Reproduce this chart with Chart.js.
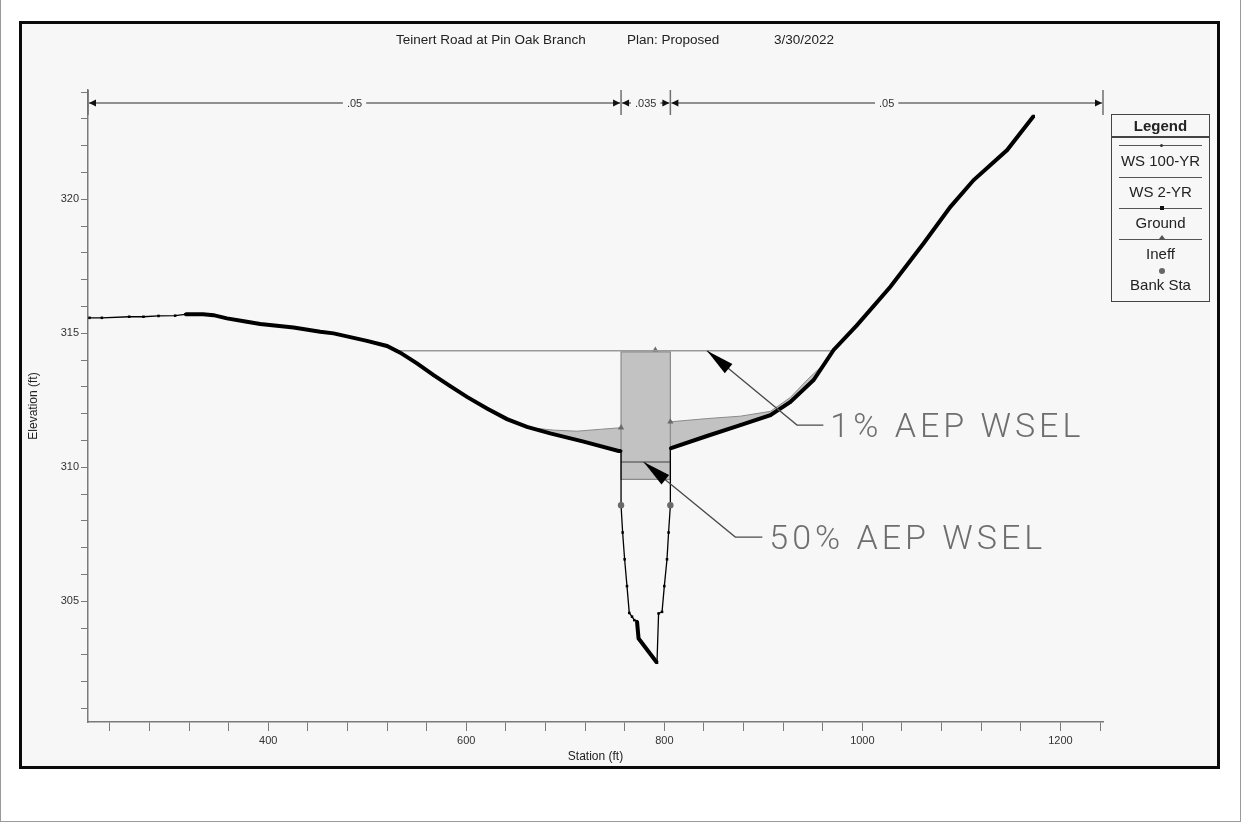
<!DOCTYPE html>
<html>
<head>
<meta charset="utf-8">
<script src="https://cdn.jsdelivr.net/npm/chart.js@4.4.0/dist/chart.umd.min.js"></script>
<style>
  html, body { margin: 0; padding: 0; background: #fff; }
  body { width: 1242px; height: 824px; position: relative; overflow: hidden;
         font-family: "Liberation Sans", Arial, sans-serif; }
  #edge { position: absolute; left: 0; top: 0; width: 1241px; height: 822px;
          border: 1px solid #9a9a9a; border-top: none; box-sizing: border-box; }
  #frame { position: absolute; left: 19px; top: 21px; width: 1201px; height: 748px;
           border: 3px solid #0a0a0a; background: #f7f7f7; box-sizing: border-box; }
  #chart { position: absolute; left: 0; top: 0; }
  .tt { position: absolute; top: 32px; font-size: 13.5px; color: #222; white-space: pre; }
  #legend { position: absolute; left: 1111px; top: 114px; width: 99px; height: 188px;
            border: 1.5px solid #444; box-sizing: border-box; color: #222; }
  #legend .hd { position: absolute; left: 0; right: 0; top: 2px; text-align: center;
                font-weight: bold; font-size: 15px; }
  #legend .sep { position: absolute; left: 0; right: 0; top: 21px; border-top: 2px solid #444; }
  #legend .ln { position: absolute; left: 7px; width: 83px; border-top: 1px solid #555; }
  #legend .tx { position: absolute; left: 0; right: 0; text-align: center; font-size: 15px; line-height: 16px; }
  #legend .mk { position: absolute; left: 48px; }
</style>
</head>
<body>
<div id="edge"></div>
<div id="frame"></div>
<canvas id="chart" width="1242" height="824"></canvas>
<div class="tt" style="left:396px">Teinert Road at Pin Oak Branch</div>
<div class="tt" style="left:627px">Plan: Proposed</div>
<div class="tt" style="left:774px">3/30/2022</div>
<div id="legend">
  <div class="hd">Legend</div>
  <div class="sep"></div>
  <div class="ln" style="top:30px"></div>
  <div class="mk" style="top:29px;width:3px;height:3px;border-radius:50%;background:#333"></div>
  <div class="tx" style="top:38px">WS 100-YR</div>
  <div class="ln" style="top:62px"></div>
  <div class="tx" style="top:69px">WS 2-YR</div>
  <div class="ln" style="top:93px"></div>
  <div class="mk" style="top:91px;width:4px;height:4px;background:#111"></div>
  <div class="tx" style="top:100px">Ground</div>
  <div class="ln" style="top:124px"></div>
  <div class="mk" style="top:120px;left:47px;width:0;height:0;border-left:3px solid transparent;border-right:3px solid transparent;border-bottom:4px solid #555"></div>
  <div class="tx" style="top:131px">Ineff</div>
  <div class="mk" style="top:153px;left:47px;width:6px;height:6px;border-radius:50%;background:#666"></div>
  <div class="tx" style="top:162px">Bank Sta</div>
</div>
<script>
/* =========================
    DATA (station ft / elevation ft)
========================= */

// Ground profile
const groundSta = [219.5, 232, 259.6, 274, 289.2, 306, 316.2, 334.3, 344.7, 358.3, 378.5, 391.9,
  425.6, 452.5, 466, 499.7, 519.9, 533.3, 550.2, 567, 583.8, 600.7, 620.9, 641.1, 661.3, 684.8,
  718.5, 753.8, 756.3, 756.3, 757.9, 759.9, 762.3, 764.6, 767.4, 769.7, 772.4, 774, 792.6,
  794.2, 797.7, 800, 802.7, 804.3, 806.1, 806.1, 843.1, 876.8, 907.1, 927.3, 950.8, 971,
  994.6, 1028.3, 1061.9, 1088.9, 1112.4, 1146.2, 1173];
const groundElev = [315.58, 315.58, 315.62, 315.62, 315.65, 315.66, 315.71, 315.71, 315.68, 315.56, 315.43, 315.35,
  315.22, 315.06, 315.0, 314.72, 314.53, 314.28, 313.88, 313.44, 313.03, 312.63, 312.2, 311.8, 311.51, 311.27,
  310.96, 310.61, 310.61, 308.59, 307.57, 306.57, 305.57, 304.57, 304.43, 304.3, 304.26, 303.62, 302.71,
  304.55, 304.61, 305.57, 306.57, 307.57, 308.59, 310.71, 311.17, 311.58, 311.95, 312.44, 313.26, 314.38,
  315.31, 316.74, 318.36, 319.72, 320.72, 321.84, 323.11];

// Water surfaces
const ws100Sta = [529.5, 970.5];
const ws100Elev = [314.35, 314.35];
const ws2Sta = [756.3, 806.1];
const ws2Elev = [310.2, 310.2];

// Ineffective flow areas
const ineffBoxSta = [756.3, 806.1];
const ineffBoxTop = 314.31;
const ineffBoxBottom = 309.55;
const ineffLeftSta = [669.7, 688.2, 711.8, 735.4, 756.3];
const ineffLeftElev = [311.46, 311.39, 311.35, 311.42, 311.48];
const ineffRightSta = [806.1, 843.1, 876.8, 907.1, 927.3, 944.1, 962];
const ineffRightElev = [311.70, 311.82, 311.91, 312.09, 312.61, 313.26, 313.88];
const ineffMarkSta = [756.3, 806.1, 790.9];
const ineffMarkElev = [311.48, 311.70, 314.38];

// Bank stations
const bankSta = [756.3, 806.1];
const bankElev = [308.59, 308.59];

// Manning's n
const nSta = [218, 756.3, 806.1, 1243];
const nVal = [".05", ".035", ".05"];

// Callouts: arrow tip, elbow, end of leader
const calloutText = ["1% AEP WSEL", "50% AEP WSEL"];
const calloutTip = [[843.1, 314.35], [779.1, 310.2]];
const calloutElbow = [[934, 311.58], [871.7, 307.4]];
const calloutEndSta = [960.6, 899];

// Axes
const xMin = 218, xMax = 1243;
const yMin = 300.5, yMax = 324.08;

const pts = (xs, ys) => xs.map((s, i) => ({ x: s, y: Array.isArray(ys) ? ys[i] : ys }));

/* =========================
    STYLE HELPERS
========================= */

const FONT = '"Liberation Sans", Arial, sans-serif';

// thin line where the surveyed points are sparse
function groundWidth(ctx) {
  const a = ctx.p0.parsed.x, b = ctx.p1.parsed.x;
  if (a < 310) return 1.3;
  if (a === b) return 1.3;
  if (a >= 756 && b <= 774.5 && !(a === 772.4 && b === 774)) return 1.3;
  if (a >= 792.6 && b <= 806.2) return 1.3;
  return 4;
}

/* =========================
    PLUGINS
========================= */

function arrowHead(ctx, tx, ty, fx, fy, len, half) {
  const ang = Math.atan2(ty - fy, tx - fx);
  ctx.beginPath();
  ctx.moveTo(tx, ty);
  ctx.lineTo(tx - len * Math.cos(ang) + half * Math.sin(ang), ty - len * Math.sin(ang) - half * Math.cos(ang));
  ctx.lineTo(tx - len * Math.cos(ang) - half * Math.sin(ang), ty - len * Math.sin(ang) + half * Math.cos(ang));
  ctx.closePath();
  ctx.fill();
}

const manningPlugin = {
  id: 'manning',
  afterDraw(chart) {
    const { ctx, chartArea, scales: { x } } = chart;
    const yl = chartArea.top + 13;
    const px = nSta.map(s => x.getPixelForValue(s));
    ctx.save();
    ctx.strokeStyle = '#6f6f6f';
    ctx.lineWidth = 1.5;
    px.forEach(p => {
      ctx.beginPath();
      ctx.moveTo(p, chartArea.top);
      ctx.lineTo(p, chartArea.top + 25);
      ctx.stroke();
    });
    ctx.font = '11px ' + FONT;
    ctx.textAlign = 'center';
    ctx.textBaseline = 'middle';
    for (let i = 0; i < nVal.length; i++) {
      const a = px[i] + 1, b = px[i + 1] - 1, mid = (px[i] + px[i + 1]) / 2;
      const w = ctx.measureText(nVal[i]).width / 2 + 4;
      ctx.strokeStyle = '#6f6f6f';
      ctx.beginPath();
      ctx.moveTo(a, yl); ctx.lineTo(mid - w, yl);
      ctx.moveTo(mid + w, yl); ctx.lineTo(b, yl);
      ctx.stroke();
      ctx.fillStyle = '#111';
      arrowHead(ctx, a, yl, a + 10, yl, 7, 3.5);
      arrowHead(ctx, b, yl, b - 10, yl, 7, 3.5);
      ctx.fillStyle = '#333';
      ctx.fillText(nVal[i], mid, yl + 1);
    }
    ctx.restore();
  }
};

const calloutPlugin = {
  id: 'callouts',
  afterDraw(chart) {
    const { ctx, scales: { x, y } } = chart;
    ctx.save();
    calloutText.forEach((t, i) => {
      const tx = x.getPixelForValue(calloutTip[i][0]), ty = y.getPixelForValue(calloutTip[i][1]);
      const ex = x.getPixelForValue(calloutElbow[i][0]), ey = y.getPixelForValue(calloutElbow[i][1]);
      const hx = x.getPixelForValue(calloutEndSta[i]);
      ctx.strokeStyle = '#4a4a4a';
      ctx.lineWidth = 1.3;
      ctx.beginPath();
      ctx.moveTo(tx, ty); ctx.lineTo(ex, ey); ctx.lineTo(hx, ey);
      ctx.stroke();
      ctx.fillStyle = '#000';
      arrowHead(ctx, tx, ty, ex, ey, 28, 6);
      ctx.fillStyle = '#6e6e6e';
      ctx.font = '300 34px Roboto, "DejaVu Sans", sans-serif';
      if ('letterSpacing' in ctx) ctx.letterSpacing = '4px';
      ctx.textAlign = 'left';
      ctx.textBaseline = 'middle';
      ctx.fillText(t, hx + 7, ey + 3);
      if ('letterSpacing' in ctx) ctx.letterSpacing = '0px';
    });
    ctx.restore();
  }
};

/* =========================
    CHART
========================= */

const GRAY_FILL = '#c2c2c2';

new Chart(document.getElementById('chart'), {
  type: 'line',
  data: {
    datasets: [
      { // 0
        label: 'Ground', data: pts(groundSta, groundElev), order: 1,
        borderColor: '#000', borderWidth: 4, pointStyle: 'rect', pointRadius: 1.8,
        pointBackgroundColor: '#000', pointBorderWidth: 0, fill: false,
        segment: { borderWidth: groundWidth }
      },
      { // 1
        label: 'WS 100-YR', data: pts(ws100Sta, ws100Elev), order: 3,
        borderColor: '#9a9a9a', borderWidth: 1.5, pointRadius: 0, fill: false
      },
      { // 2
        label: 'WS 2-YR', data: pts(ws2Sta, ws2Elev), order: 2,
        borderColor: '#6a6a6a', borderWidth: 1.5, pointRadius: 0, fill: false
      },
      { // 3
        label: 'Ineff L', data: pts(ineffLeftSta, ineffLeftElev), order: 6,
        borderColor: '#8a8a8a', borderWidth: 1, pointRadius: 0,
        backgroundColor: GRAY_FILL, fill: { target: 0 }
      },
      { // 4
        label: 'Ineff R', data: pts(ineffRightSta, ineffRightElev), order: 6,
        borderColor: '#8a8a8a', borderWidth: 1, pointRadius: 0,
        backgroundColor: GRAY_FILL, fill: { target: 0 }
      },
      { // 5 box fill
        label: 'Ineff box', data: pts(ineffBoxSta, ineffBoxTop), order: 7,
        borderWidth: 0, pointRadius: 0, backgroundColor: GRAY_FILL,
        fill: { value: ineffBoxBottom }
      },
      { // 6 box outline
        label: 'Ineff box edge',
        data: [
          { x: ineffBoxSta[0], y: ineffBoxBottom }, { x: ineffBoxSta[0], y: ineffBoxTop },
          { x: ineffBoxSta[1], y: ineffBoxTop }, { x: ineffBoxSta[1], y: ineffBoxBottom },
          { x: ineffBoxSta[0], y: ineffBoxBottom }
        ],
        order: 5, borderColor: '#8a8a8a', borderWidth: 1.2, pointRadius: 0, fill: false
      },
      { // 7
        label: 'Ineff', data: pts(ineffMarkSta, ineffMarkElev), order: 4, showLine: false,
        pointStyle: 'triangle', pointRadius: 3.6, pointBackgroundColor: '#6a6a6a',
        pointBorderColor: '#6a6a6a', pointBorderWidth: 0
      },
      { // 8
        label: 'Bank Sta', data: pts(bankSta, bankElev), order: 0, showLine: false,
        pointStyle: 'circle', pointRadius: 3.2, pointBackgroundColor: '#6a6a6a',
        pointBorderColor: '#6a6a6a', pointBorderWidth: 0
      }
    ]
  },
  options: {
    responsive: false,
    animation: false,
    events: [],
    layout: { padding: { left: 0, top: 90, right: 139, bottom: 52 } },
    plugins: { legend: { display: false }, tooltip: { enabled: false } },
    elements: { line: { tension: 0 } },
    scales: {
      x: {
        type: 'linear', min: xMin, max: xMax,
        border: { display: true, color: '#7a7a7a', width: 1.5 },
        grid: { drawOnChartArea: false, drawTicks: true, tickLength: 9, color: '#7a7a7a', lineWidth: 1 },
        ticks: {
          stepSize: 40, includeBounds: false, autoSkip: false, maxRotation: 0,
          padding: 3, color: '#333', font: { family: FONT, size: 11 },
          callback: v => (v % 200 === 0 ? v : '')
        },
        title: { display: true, text: 'Station (ft)', color: '#222',
                 font: { family: FONT, size: 12 }, padding: { top: 0, bottom: 8 } },
        afterFit: s => { s.height = 50; }
      },
      y: {
        type: 'linear', min: yMin, max: yMax,
        border: { display: true, color: '#7a7a7a', width: 1.5 },
        grid: { drawOnChartArea: false, drawTicks: true, tickLength: 7, color: '#7a7a7a', lineWidth: 1 },
        ticks: {
          stepSize: 1, includeBounds: false, autoSkip: false,
          padding: 2, color: '#333', font: { family: FONT, size: 11 },
          callback: v => (v % 5 === 0 ? v : '')
        },
        title: { display: true, text: 'Elevation (ft)', color: '#222',
                 font: { family: FONT, size: 12 }, padding: { top: 26, bottom: 0 } },
        afterFit: s => { s.width = 88; }
      }
    }
  },
  plugins: [manningPlugin, calloutPlugin]
});
</script>
</body>
</html>
